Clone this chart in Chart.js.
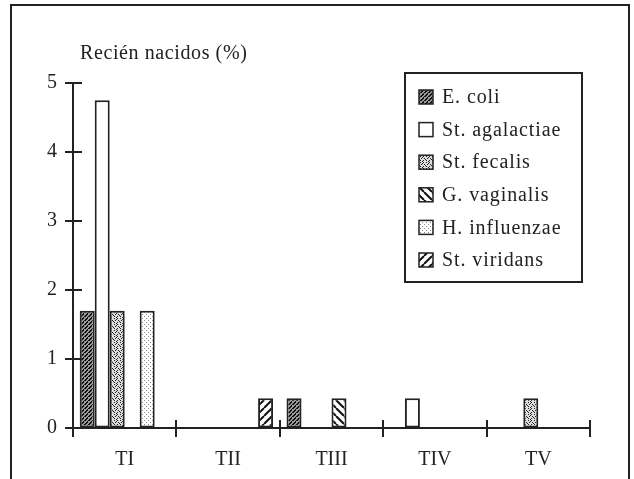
<!DOCTYPE html>
<html>
<head>
<meta charset="utf-8">
<script src="https://cdn.jsdelivr.net/npm/chart.js@4/dist/chart.umd.min.js"></script>
<style>
  body { margin: 0; background: #fff; }
  #wrap { position: relative; width: 634px; height: 479px; }
  #frame {
    position: absolute; left: 10px; top: 4px; width: 616px; height: 480px;
    border: 2px solid #222; border-bottom: none; pointer-events: none;
  }
</style>
</head>
<body>
<div id="wrap">
  <canvas id="chart" width="634" height="479"></canvas>
  <div id="frame"></div>
</div>
<script>
// categories and values (% de recién nacidos)
const categories = ['TI', 'TII', 'TIII', 'TIV', 'TV'];
const seriesNames = ['E. coli', 'St. agalactiae', 'St. fecalis', 'G. vaginalis', 'H. influenzae', 'St. viridans'];
const eColi        = [1.7, null, 0.43, null, null];
const stAgalactiae = [4.75, null, null, 0.43, null];
const stFecalis    = [1.7, null, null, null, 0.43];
const gVaginalis   = [null, null, 0.43, null, null];
const hInfluenzae  = [1.7, null, null, null, null];
const stViridans   = [null, 0.43, null, null, null];
const yTicks = [0, 1, 2, 3, 4, 5];
const yTitle = 'Recién nacidos (%)';

const FONT = '"Liberation Serif", "DejaVu Serif", serif';
const INK = '#222';

// small canvas patterns for the bar fills
function makePattern(size, draw) {
    const c = document.createElement('canvas');
    c.width = size; c.height = size;
    const g = c.getContext('2d');
    draw(g, size);
    return g.createPattern(c, 'repeat');
}
const ctx0 = document.getElementById('chart').getContext('2d');

const pEColi = makePattern(4, (g, s) => {
    g.fillStyle = '#999'; g.fillRect(0, 0, s, s);
    g.fillStyle = '#111';
    for (let i = 0; i < s; i++) g.fillRect((s - 1 - i + 1) % s, i, 2, 1);
});
// stipple: scattered dark dots on light grey
const pFecalis = makePattern(6, (g, s) => {
    g.fillStyle = '#ddd'; g.fillRect(0, 0, s, s);
    g.fillStyle = '#222';
    [[0, 0], [3, 0], [1, 2], [4, 2], [0, 4], [3, 4], [2, 1], [5, 3], [2, 5]]
        .forEach(([px, py]) => g.fillRect(px, py, 1, 1));
});
const pVaginalis = makePattern(8, (g, s) => {
    g.fillStyle = '#fff'; g.fillRect(0, 0, s, s);
    g.strokeStyle = '#111'; g.lineWidth = 2;
    for (const o of [-s, 0, s]) {
        g.beginPath(); g.moveTo(o, 0); g.lineTo(o + s, s); g.stroke();
    }
});
const pInfluenzae = makePattern(4, (g, s) => {
    g.fillStyle = '#fff'; g.fillRect(0, 0, s, s);
    g.fillStyle = '#888';
    g.fillRect(0, 0, 1, 1); g.fillRect(2, 2, 1, 1);
});
const pViridans = makePattern(8, (g, s) => {
    g.fillStyle = '#fff'; g.fillRect(0, 0, s, s);
    g.strokeStyle = '#111'; g.lineWidth = 2;
    for (const o of [-s, 0, s]) {
        g.beginPath(); g.moveTo(o, s); g.lineTo(o + s, 0); g.stroke();
    }
});

const seriesData = [eColi, stAgalactiae, stFecalis, gVaginalis, hInfluenzae, stViridans];
const fills = [pEColi, '#fff', pFecalis, pVaginalis, pInfluenzae, pViridans];

// tick marks crossing the axes, the y title and the boxed legend
const decorations = {
    id: 'decorations',
    afterDraw(chart) {
        const { ctx, chartArea: a, scales: { x, y } } = chart;
        ctx.save();
        ctx.strokeStyle = INK;
        ctx.lineWidth = 2;
        yTicks.forEach(v => {
            const py = Math.round(y.getPixelForValue(v));
            ctx.beginPath(); ctx.moveTo(a.left - 8, py); ctx.lineTo(a.left + 9, py); ctx.stroke();
        });
        const step = (a.right - a.left) / categories.length;
        for (let i = 0; i <= categories.length; i++) {
            const px = Math.round(a.left + i * step);
            ctx.beginPath(); ctx.moveTo(px, a.bottom - 8); ctx.lineTo(px, a.bottom + 9); ctx.stroke();
        }

        ctx.fillStyle = INK;
        ctx.font = '20px ' + FONT;
        ctx.letterSpacing = '0.6px';
        ctx.textBaseline = 'middle';
        ctx.textAlign = 'left';
        ctx.fillText(yTitle, a.left + 7, 54);

        // legend
        const lx = 405, ly = 73, lw = 177, lh = 209;
        ctx.lineWidth = 2;
        ctx.strokeRect(lx, ly, lw, lh);
        ctx.letterSpacing = '0.9px';
        chart.data.datasets.forEach((ds, i) => {
            const cy = 97 + i * 32.6;
            ctx.fillStyle = ds.backgroundColor;
            ctx.fillRect(419, cy - 7, 14, 14);
            ctx.lineWidth = 1.5;
            ctx.strokeRect(419, cy - 7, 14, 14);
            ctx.fillStyle = INK;
            ctx.fillText(ds.label, 442, cy + 1);
        });
        ctx.restore();
    }
};

new Chart(ctx0, {
    type: 'bar',
    data: {
        labels: categories,
        datasets: seriesNames.map((name, i) => ({
            label: name,
            data: seriesData[i],
            backgroundColor: fills[i],
            borderColor: INK,
            borderWidth: 2,
            borderSkipped: false,
            barPercentage: 1,
            categoryPercentage: 0.87
        }))
    },
    options: {
        responsive: false,
        animation: false,
        events: [],
        layout: { padding: { top: 83, right: 44, left: 0, bottom: 0 } },
        plugins: {
            legend: { display: false },
            tooltip: { enabled: false }
        },
        scales: {
            x: {
                afterFit: s => { s.height = 51; },
                grid: { drawOnChartArea: false, drawTicks: false },
                border: { color: INK, width: 2 },
                ticks: { color: INK, font: { family: FONT, size: 20 }, padding: 20 }
            },
            y: {
                min: 0,
                max: 5,
                afterFit: s => { s.width = 73; },
                afterBuildTicks: s => { s.ticks = yTicks.map(v => ({ value: v })); },
                grid: { drawOnChartArea: false, drawTicks: false },
                border: { color: INK, width: 2 },
                ticks: { color: INK, font: { family: FONT, size: 20 }, padding: 16 }
            }
        }
    },
    plugins: [decorations]
});
</script>
</body>
</html>
